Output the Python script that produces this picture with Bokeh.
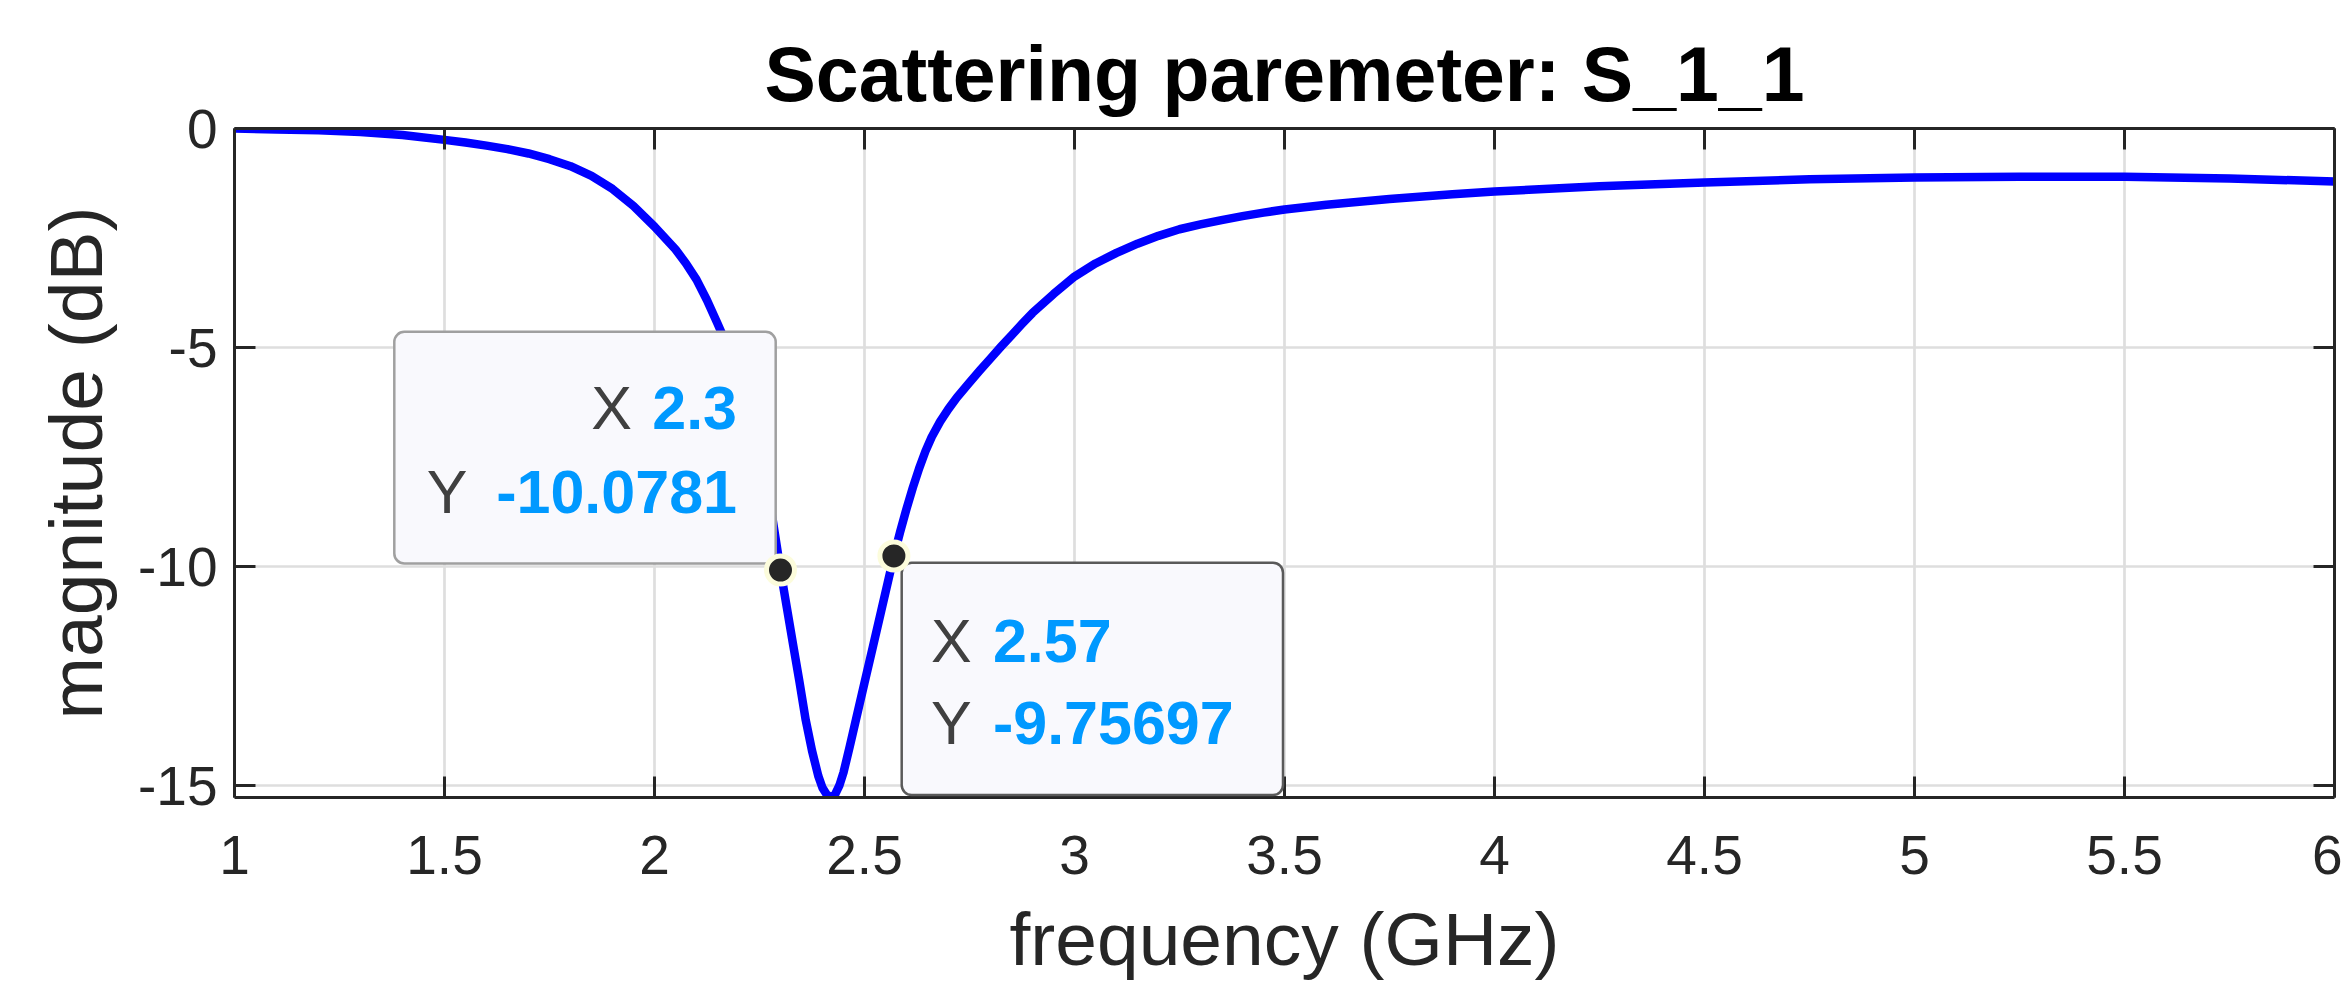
from bokeh.plotting import figure
from bokeh.models import Range1d, LinearAxis, FixedTicker, BoxAnnotation, Label
from bokeh.embed import file_html
from bokeh.resources import INLINE

# ---------------- data ----------------
freq_ghz = [1.00, 1.10, 1.20, 1.30, 1.40, 1.50, 1.55, 1.60, 1.65, 1.70,
            1.75, 1.80, 1.85, 1.90, 1.95, 2.00, 2.05, 2.075, 2.10, 2.125,
            2.15, 2.175, 2.20, 2.225, 2.25, 2.27, 2.285, 2.30, 2.315, 2.33,
            2.345, 2.36, 2.375, 2.39, 2.40, 2.41, 2.42, 2.43, 2.44, 2.45,
            2.465, 2.48, 2.50, 2.52, 2.54, 2.555, 2.57, 2.585, 2.60, 2.615,
            2.63, 2.645, 2.66, 2.68, 2.70, 2.72, 2.75, 2.775, 2.80, 2.825,
            2.85, 2.875, 2.90, 2.95, 3.00, 3.05, 3.10, 3.15, 3.20, 3.25,
            3.30, 3.35, 3.40, 3.45, 3.50, 3.60, 3.75, 3.90, 4.00, 4.25,
            4.50, 4.75, 5.00, 5.25, 5.50, 5.75, 6.00]
s11_db = [0.00, -0.02, -0.04, -0.08, -0.15, -0.26, -0.32, -0.39, -0.47, -0.57,
          -0.70, -0.86, -1.08, -1.38, -1.77, -2.24, -2.76, -3.08, -3.45, -3.92,
          -4.45, -5.00, -5.60, -6.38, -7.33, -8.23, -9.15, -10.0781, -10.93, -11.78,
          -12.62, -13.50, -14.20, -14.78, -15.05, -15.20, -15.27, -15.20, -15.00, -14.70,
          -14.10, -13.48, -12.65, -11.83, -11.00, -10.38, -9.75697, -9.20, -8.68, -8.20,
          -7.76, -7.37, -7.04, -6.69, -6.40, -6.14, -5.80, -5.52, -5.25, -4.98,
          -4.72, -4.46, -4.21, -3.78, -3.38, -3.08, -2.84, -2.63, -2.45, -2.30,
          -2.19, -2.09, -2.00, -1.92, -1.85, -1.74, -1.61, -1.50, -1.44, -1.32,
          -1.23, -1.16, -1.12, -1.10, -1.10, -1.14, -1.21]

x_ticks = [1, 1.5, 2, 2.5, 3, 3.5, 4, 4.5, 5, 5.5, 6]
x_tick_labels = ["1", "1.5", "2", "2.5", "3", "3.5", "4", "4.5", "5", "5.5", "6"]
y_ticks = [0, -5, -10, -15]
y_tick_labels = ["0", "-5", "-10", "-15"]

tip_x = [2.3, 2.57]
tip_y = [-10.0781, -9.75697]
tip_x_text = ["2.3", "2.57"]
tip_y_text = ["-10.0781", "-9.75697"]

title_text = "Scattering paremeter: S_1_1"
x_label_text = "frequency (GHz)"
y_label_text = "magnitude (dB)"

# ---------------- styling ----------------
FONT = "Liberation Sans"
AX = "#262626"
FW, FH = 2100, 669

x0, x1 = min(freq_ghz), max(freq_ghz)
y0, y1 = min(s11_db), max(s11_db)
ppx = FW / (x1 - x0)
ppy = FH / (y1 - y0)

p = figure(frame_width=FW, frame_height=FH,
           x_range=Range1d(x0, x1), y_range=Range1d(y0, y1),
           output_backend="svg", toolbar_location=None,
           min_border_left=234, min_border_right=8,
           min_border_top=128, min_border_bottom=188,
           background_fill_color="white", border_fill_color="white",
           outline_line_color=None)

p.title.text = title_text
p.title.text_font = FONT
p.title.text_font_size = "77px"
p.title.text_font_style = "bold"
p.title.text_color = "black"
p.title.align = "center"
p.title.standoff = 24

xax = p.xaxis[0]
yax = p.yaxis[0]
xax.ticker = FixedTicker(ticks=x_ticks)
yax.ticker = FixedTicker(ticks=y_ticks)
xax.major_label_overrides = dict(zip(x_ticks, x_tick_labels))
yax.major_label_overrides = dict(zip(y_ticks, y_tick_labels))

top_ax = LinearAxis(ticker=FixedTicker(ticks=x_ticks),
                    major_label_text_font_size="1px", major_label_text_color=None,
                    major_label_standoff=0)
right_ax = LinearAxis(ticker=FixedTicker(ticks=y_ticks),
                      major_label_text_font_size="1px", major_label_text_color=None,
                      major_label_standoff=0)
p.add_layout(top_ax, "above")
p.add_layout(right_ax, "right")

for ax in (xax, yax, top_ax, right_ax):
    ax.axis_line_color = AX
    ax.axis_line_width = 3
    ax.major_tick_line_color = AX
    ax.major_tick_line_width = 3
    ax.major_tick_in = 21
    ax.major_tick_out = 0
    ax.minor_tick_line_color = None

for ax in (xax, yax):
    ax.major_label_text_font = FONT
    ax.major_label_text_font_size = "55px"
    ax.major_label_text_color = AX
    ax.axis_label_text_font = FONT
    ax.axis_label_text_font_size = "75px"
    ax.axis_label_text_font_style = "normal"
    ax.axis_label_text_color = AX
xax.major_label_standoff = 38
yax.major_label_standoff = 17

yax.axis_label = y_label_text
yax.axis_label_standoff = 17
xax.axis_label = x_label_text
xax.axis_label_standoff = 20

p.xgrid.ticker = FixedTicker(ticks=x_ticks)
p.ygrid.ticker = FixedTicker(ticks=y_ticks)
for g in (p.xgrid, p.ygrid):
    g.grid_line_color = "#dedede"
    g.grid_line_width = 2.7

# curve
p.line(freq_ghz, s11_db, line_color="#0000ff", line_width=8.5, line_join="round")

# ---------------- data tips ----------------
BOX_FILL = "#f9f9fd"
VAL = "#0099ff"
LAB = "#404040"
TFS = "61px"

# tip 1 (box up-left of the point, text right aligned)
px, py = tip_x[0], tip_y[0]
p.add_layout(BoxAnnotation(left=px - 386.2 / ppx, right=px - 4.8 / ppx,
                           top=py + 238.2 / ppy, bottom=py + 6.6 / ppy,
                           fill_color=BOX_FILL, fill_alpha=1.0,
                           line_color="#a0a0a0", line_width=2.5, line_alpha=1.0,
                           border_radius=10))
for txt, dx, dy, col, sty, al in [
        ("X", -148.5, 162.4, LAB, "normal", "right"),
        (tip_x_text[0], -43.5, 162.4, VAL, "bold", "right"),
        ("Y", -313.0, 78.2, LAB, "normal", "right"),
        (tip_y_text[0], -43.5, 78.2, VAL, "bold", "right")]:
    p.add_layout(Label(x=px, y=py, x_offset=dx, y_offset=dy, text=txt,
                       text_font=FONT, text_font_size=TFS, text_font_style=sty,
                       text_color=col, text_align=al, text_baseline="middle"))

# tip 2 (box down-right of the point, text left aligned)
px, py = tip_x[1], tip_y[1]
p.add_layout(BoxAnnotation(left=px + 7.8 / ppx, right=px + 389.1 / ppx,
                           top=py - 6.8 / ppy, bottom=py - 239.1 / ppy,
                           fill_color=BOX_FILL, fill_alpha=1.0,
                           line_color="#5a5a5a", line_width=2.5, line_alpha=1.0,
                           border_radius=10))
for txt, dx, dy, col, sty, al in [
        ("X", 37.0, -84.9, LAB, "normal", "left"),
        (tip_x_text[1], 99.0, -84.9, VAL, "bold", "left"),
        ("Y", 37.0, -167.4, LAB, "normal", "left"),
        (tip_y_text[1], 99.0, -167.4, VAL, "bold", "left")]:
    p.add_layout(Label(x=px, y=py, x_offset=dx, y_offset=dy, text=txt,
                       text_font=FONT, text_font_size=TFS, text_font_style=sty,
                       text_color=col, text_align=al, text_baseline="middle"))

# markers on top of everything
p.scatter(tip_x, tip_y, size=28, fill_color="#262626", line_color="#fcfcdc",
          line_width=5, level="overlay")

open("out.html", "w").write(file_html(p, INLINE))
